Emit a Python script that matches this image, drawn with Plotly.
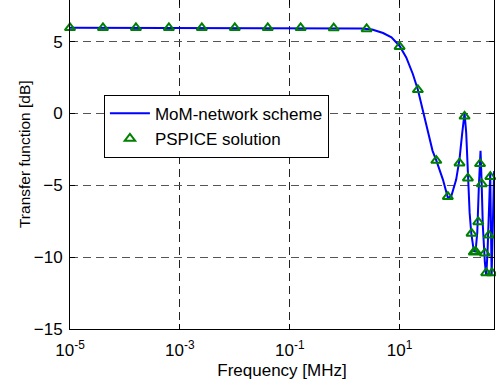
import plotly.graph_objects as go

# MoM-network scheme curve (frequency in MHz, transfer function in dB)
line_freq = [1e-5, 1e-4, 1e-3, 0.01, 0.1, 0.316, 1.0, 2.0, 3.16, 5.0, 7.1, 10, 13.2, 17.4,
             21.5, 31.6, 39.8, 46.5, 61.4, 75.5, 87.1, 107, 123, 138, 152, 163, 175, 188,
             201, 224, 241, 259, 277, 297, 310, 327, 356, 377, 398, 421, 446, 473, 501, 525]
line_db = [5.96, 5.96, 5.96, 5.96, 5.96, 5.96, 5.95, 5.92, 5.85, 5.6, 5.3, 4.7, 3.9, 2.75,
           1.65, -1.1, -2.6, -3.26, -4.6, -5.87, -5.76, -4.6, -3.2, -1.35, 0.03, -1.35, -4.37, -6.9,
           -8.3, -9.57, -9.6, -8.3, -5.05, -2.6, -4.6, -7.8, -10.35, -11.3, -9.7, -7.15, -4.14, -11.3, -7.5, -4.0]

# PSPICE solution points
pspice_freq = [1e-5, 3.98e-5, 1.585e-4, 6.31e-4, 2.51e-3, 0.01, 0.0398, 0.158, 0.631, 2.51,
               10, 21.5, 46.5, 75.5, 123, 152, 175, 204, 224, 241, 270, 291, 313, 356, 377,
               421, 448, 481]
pspice_db = [5.96, 5.96, 5.96, 5.96, 5.96, 5.96, 5.96, 5.96, 5.95, 5.89,
             4.65, 1.65, -3.28, -5.79, -3.46, -0.2, -4.5, -8.35, -9.65, -9.6, -7.55, -3.5, -4.9, -9.72, -11.1,
             -8.48, -4.4, -11.1]

x_tickvals = [1e-5, 1e-3, 1e-1, 1e1]
x_ticktext = ["10<sup>-5</sup>", "10<sup>-3</sup>", "10<sup>-1</sup>", "10<sup>1</sup>"]
y_tickvals = [-15, -10, -5, 0, 5]

FONT = "Liberation Sans, Arial, Helvetica, sans-serif"

fig = go.Figure()
fig.add_trace(go.Scatter(x=line_freq, y=line_db, mode="lines", name="MoM-network scheme",
                         line=dict(color="#0000ff", width=2)))
fig.add_trace(go.Scatter(x=pspice_freq, y=pspice_db, mode="markers", name="PSPICE solution",
                         cliponaxis=False,
                         marker=dict(symbol="triangle-up-open", size=9, color="#008000",
                                     line=dict(color="#008000", width=2))))

fig.update_layout(
    width=496, height=385,
    margin=dict(l=70, r=2, t=0, b=56),
    paper_bgcolor="white", plot_bgcolor="white",
    font=dict(family=FONT, size=17, color="black"),
    showlegend=True,
    legend=dict(x=0.080, y=0.712, xanchor="left", yanchor="top",
                bordercolor="black", borderwidth=1, bgcolor="white",
                font=dict(size=17), itemwidth=40, tracegroupgap=0),
    xaxis=dict(type="log", range=[-5, 2.718], tickvals=x_tickvals, ticktext=x_ticktext,
               showgrid=True, gridcolor="#222", griddash="8px,5px", gridwidth=1,
               showline=True, linecolor="black", linewidth=1, mirror="ticks",
               ticks="inside", ticklen=5, tickcolor="black", zeroline=False,
               tickfont=dict(size=17), ticklabelstandoff=6,
               title=dict(text="Frequency [MHz]", standoff=4, font=dict(size=17))),
    yaxis=dict(range=[-15, 7.9], tickvals=y_tickvals,
               showgrid=True, gridcolor="#555", griddash="8px,5px", gridwidth=1,
               showline=True, linecolor="black", linewidth=1, mirror="ticks",
               ticks="inside", ticklen=5, tickcolor="black", zeroline=False,
               tickfont=dict(size=17), ticklabelstandoff=3),
    annotations=[dict(text="Transfer function [dB]", xref="paper", yref="paper",
                      x=-0.106, y=0.532, textangle=-90, showarrow=False,
                      font=dict(size=15.5, family=FONT), xanchor="center", yanchor="middle")],
)

fig.write_html("out.html", post_script="document.body.style.margin='0px';",
               config={"displayModeBar": False})
